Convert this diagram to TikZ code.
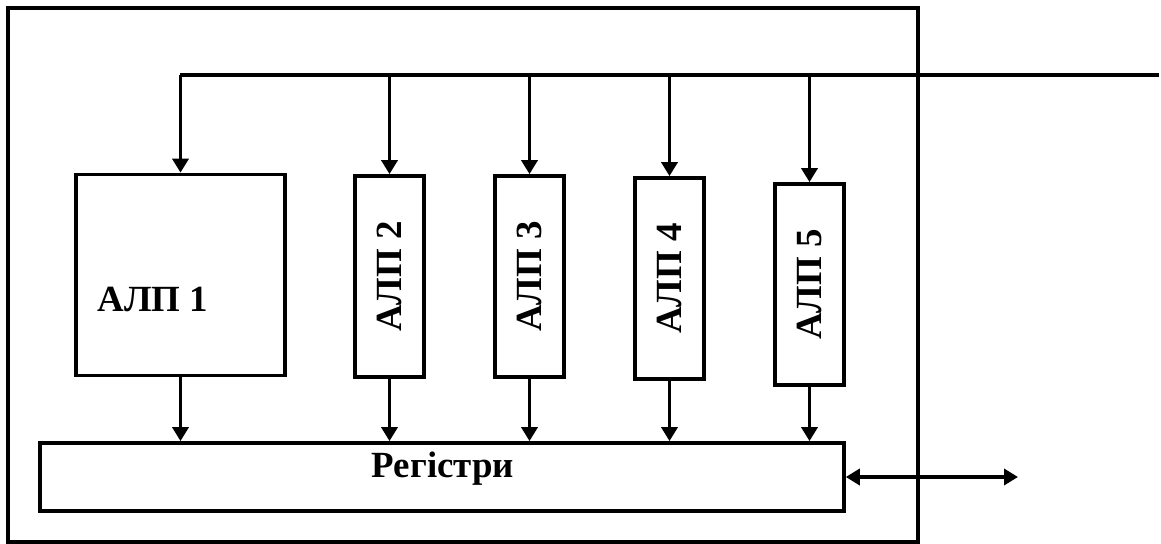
\documentclass[tikz,border=0pt]{standalone}
\usepackage{fontspec}
\setmainfont{Liberation Serif}
\usetikzlibrary{arrows.meta,positioning}

\begin{document}
\begin{tikzpicture}[x=0.02cm,y=-0.02cm,
          line width=0.075cm,
          blk/.style = {draw=black, inner sep=0pt, minimum height=4.02cm},
          lbl/.style = {inner sep=1pt, font=\fontsize{21}{25}\selectfont\bfseries},
          ->,>={Triangle[length=0.28cm,width=0.32cm]}]
        \useasboundingbox (0,0) rectangle (1161,544);
        % frame of the processor
        \node [draw=black, inner sep=0pt, minimum width=18.2cm, minimum height=10.68cm] (cpu) at (463,275) {};
        % common bus
        \coordinate (busL) at (180,75);
        \coordinate (busR) at (1159,75);
        \draw [-] (busL) -- (busR);
        % ALU blocks
        \node [blk, minimum width=4.18cm] (alu1) at (180.5,275) {};
        \node [lbl] (alu1txt) at (153,300) {АЛП 1};
        \foreach \i/\x/\y in {2/389.5/276.5, 3/529.5/276.5, 4/669.5/278.5, 5/809.5/284.5} {
            \node [blk, minimum width=1.38cm] (alu\i) at (\x,\y) {};
            \node [lbl, rotate=90] (alu\i txt) at (alu\i) {АЛП \i};
        }
        % registers
        \node [draw=black, inner sep=0pt, minimum width=16.08cm, minimum height=1.36cm] (reg) at (442,477) {};
        \node [lbl] (regtxt) at (443,469) {Регістри};
        \coordinate (ext) at (1018,477);
        \foreach \i in {1,...,5} {
            \draw (alu\i.north |- busL) -- (alu\i.north);
            \draw (alu\i.south) -- (alu\i.south |- reg.north);
        }
        \draw [<->] (reg.east) -- (ext);
\end{tikzpicture}
\end{document}
